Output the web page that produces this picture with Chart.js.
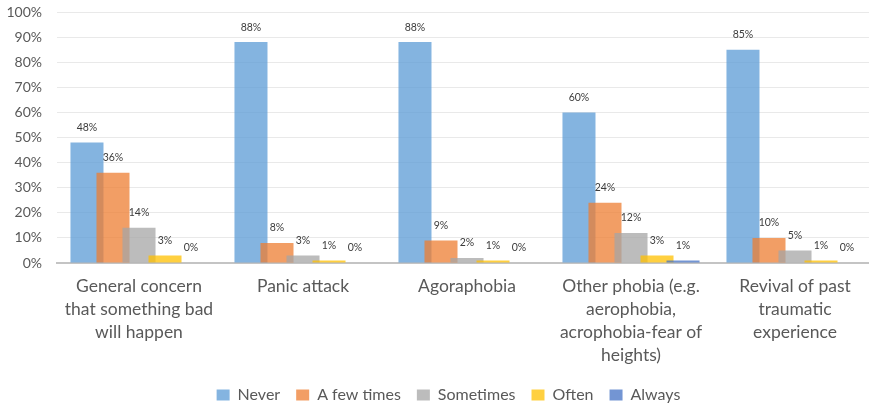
<!DOCTYPE html>
<html>
<head>
<meta charset="utf-8">
<script src="https://cdn.jsdelivr.net/npm/chart.js@4.4.1/dist/chart.umd.min.js"></script>
<style>
  html, body { margin: 0; padding: 0; background: #ffffff; overflow: hidden; }
  #wrap { width: 896px; height: 413px; position: relative; }
</style>
</head>
<body>
<div id="wrap"><canvas id="chart"></canvas></div>
<script>
// Categories (multi-line labels) and the five response series, in percent
const categories = [
  ['General concern', 'that something bad', 'will happen'],
  'Panic attack',
  'Agoraphobia',
  ['Other phobia (e.g.', 'aerophobia,', 'acrophobia-fear of', 'heights)'],
  ['Revival of past', 'traumatic', 'experience']
];
const seriesNames = ['Never', 'A few times', 'Sometimes', 'Often', 'Always'];
const never     = [48, 88, 88, 60, 85];
const fewTimes  = [36, 8, 9, 24, 10];
const sometimes = [14, 3, 2, 12, 5];
const often     = [3, 1, 1, 3, 1];
const always    = [0, 0, 0, 1, 0];
const yTickValues = [0, 10, 20, 30, 40, 50, 60, 70, 80, 90, 100];

const seriesValues = [never, fewTimes, sometimes, often, always];
const seriesColors = [
  'rgba(91,155,213,0.75)',
  'rgba(237,125,49,0.75)',
  'rgba(165,165,165,0.75)',
  'rgba(255,192,0,0.75)',
  'rgba(68,114,196,0.75)'
];
const FONT = 'Lato, "Liberation Sans", sans-serif';

// Draw the bars left-to-right so each later series sits over the previous one,
// then print the percentage above every bar.
const barsAndLabels = {
  id: 'barsAndLabels',
  afterLayout(chart) {
    // centre the legend under the whole figure rather than the padded box
    chart.legend.left += 10;
    chart.legend.right += 10;
  },
  beforeDatasetsDraw(chart) {
    const metas = chart.getSortedVisibleDatasetMetas().slice().sort((a, b) => a.index - b.index);
    metas.forEach(m => m.controller.draw());
    return false;
  },
  afterDraw(chart) {
    const ctx = chart.ctx;
    ctx.save();
    ctx.font = '10.5px ' + FONT;
    ctx.fillStyle = '#3c3c3c';
    ctx.textAlign = 'center';
    ctx.textBaseline = 'middle';
    chart.data.datasets.forEach((ds, i) => {
      const meta = chart.getDatasetMeta(i);
      meta.data.forEach((bar, j) => {
        ctx.fillText(ds.data[j] + '%', bar.x, bar.y - 15);
      });
    });
    ctx.restore();
  }
};

new Chart(document.getElementById('chart'), {
  type: 'bar',
  data: {
    labels: categories,
    datasets: seriesNames.map((name, i) => ({
      label: name,
      data: seriesValues[i],
      backgroundColor: seriesColors[i],
      borderWidth: 0,
      categoryPercentage: 0.793,
      barPercentage: 1.27
    }))
  },
  options: {
    responsive: true,
    maintainAspectRatio: false,
    animation: false,
    layout: { padding: { left: 0, right: 19, top: 12, bottom: 0 } },
    plugins: {
      tooltip: { enabled: false },
      legend: {
        position: 'bottom',
        labels: {
          boxWidth: 13,
          boxHeight: 11,
          padding: 16,
          color: '#595959',
          font: { family: FONT, size: 16 }
        }
      }
    },
    scales: {
      x: {
        grid: { display: false, drawTicks: false },
        border: { display: true, color: '#C4C4C4', width: 2 },
        ticks: {
          color: '#595959',
          font: { family: FONT, size: 17.5, lineHeight: 1.32 },
          padding: 12,
          maxRotation: 0,
          autoSkip: false
        },
        afterFit(scale) { scale.height = 108; }
      },
      y: {
        min: 0,
        max: 100,
        afterBuildTicks(scale) { scale.ticks = yTickValues.map(v => ({ value: v })); },
        ticks: {
          color: '#595959',
          font: { family: FONT, size: 14 },
          padding: 15,
          callback: v => v + '%'
        },
        grid: { color: '#E9E9E9', lineWidth: 1, drawTicks: false },
        border: { display: false },
        afterFit(scale) {
          scale.width = 57;
          scale.paddingTop = 0;
          scale.paddingBottom = 0;
        }
      }
    }
  },
  plugins: [barsAndLabels]
});
</script>
</body>
</html>
